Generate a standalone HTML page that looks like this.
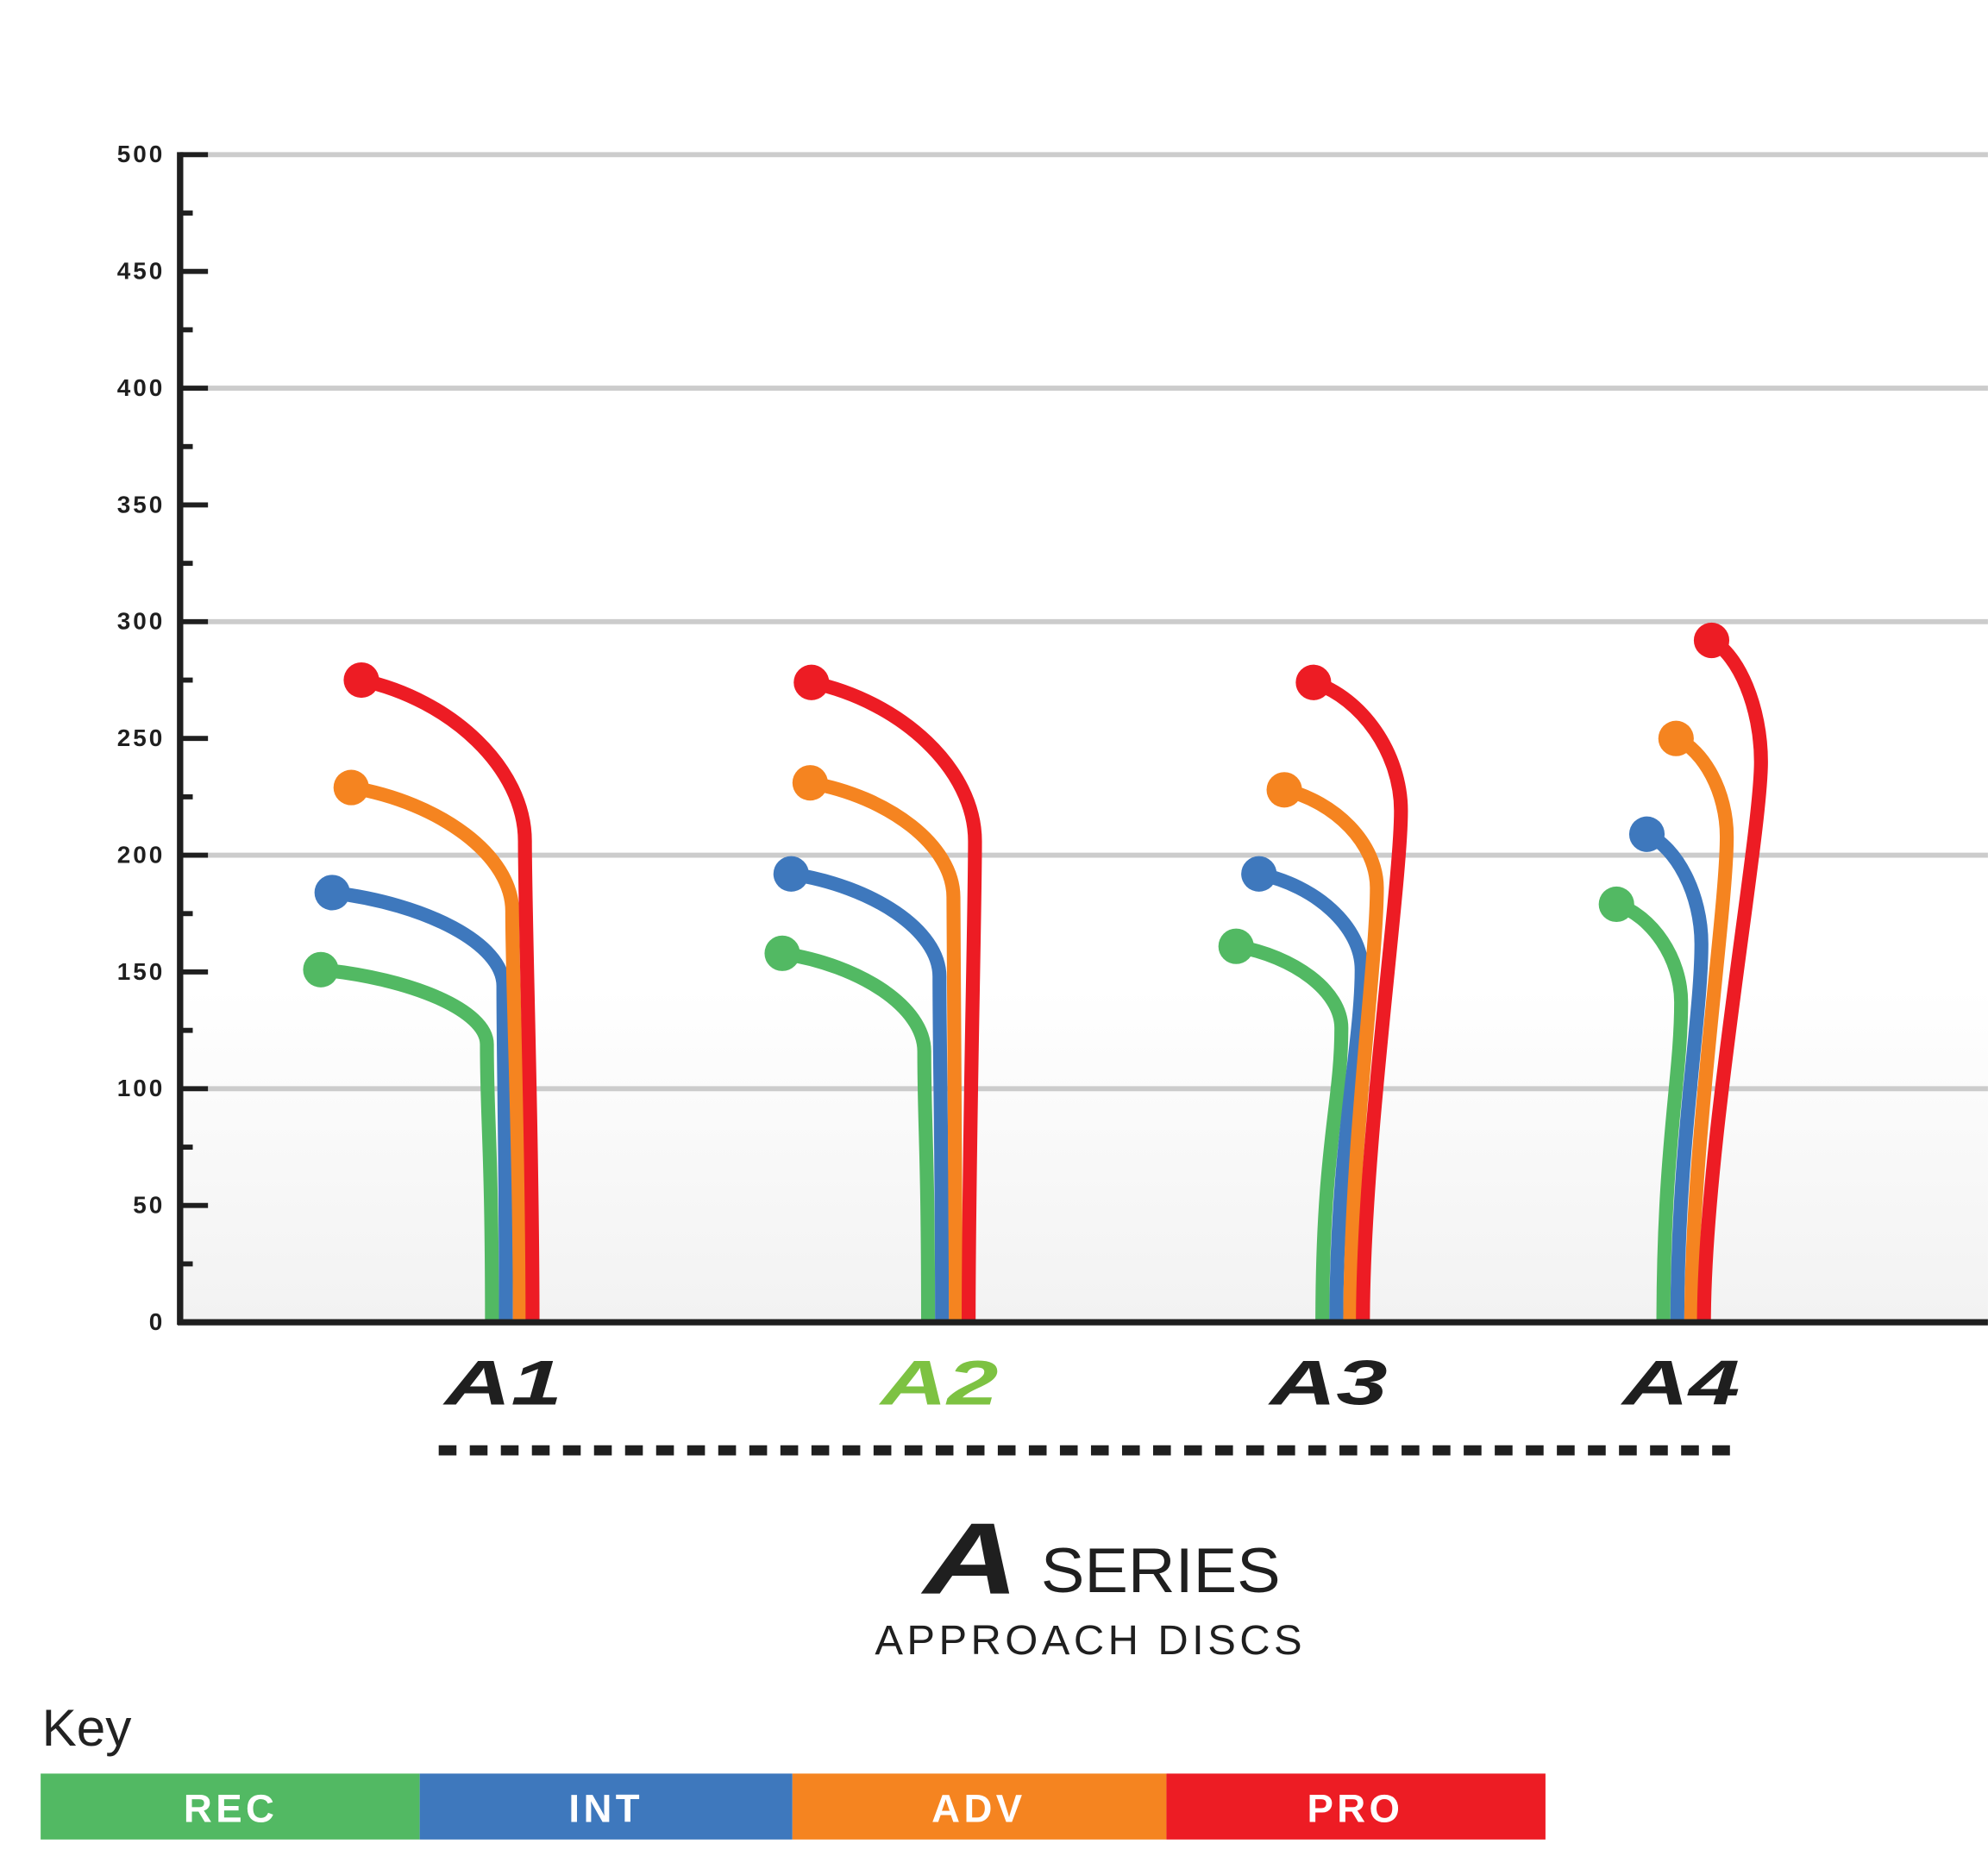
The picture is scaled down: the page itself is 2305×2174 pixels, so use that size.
<!DOCTYPE html>
<html><head><meta charset="utf-8"><style>
html,body{margin:0;padding:0;background:#fff;}
svg{display:block;}
</style></head><body>
<svg id="chart" width="2305" height="2174" viewBox="0 0 1568 1479" xmlns="http://www.w3.org/2000/svg" font-family="Liberation Sans, sans-serif">
<defs>
<linearGradient id="bg" x1="0" y1="0" x2="0" y2="1">
<stop offset="0" stop-color="#ffffff"/><stop offset="1" stop-color="#f2f2f2"/>
</linearGradient>
</defs>
<rect x="142" y="780" width="1426" height="263" fill="url(#bg)"/>
<g id="grid"></g>
<g id="curves"></g>
<g id="axes"></g>

<g font-weight="bold" font-style="italic" font-size="50">
<text x="397" y="1108" text-anchor="middle" fill="#1f1f1f" transform="translate(397 1108) scale(1.45 1) translate(-397 -1108)">A1</text>
<text x="741" y="1108" text-anchor="middle" fill="#7dc242" transform="translate(741 1108) scale(1.45 1) translate(-741 -1108)">A2</text>
<text x="1048" y="1108" text-anchor="middle" fill="#1f1f1f" transform="translate(1048 1108) scale(1.45 1) translate(-1048 -1108)">A3</text>
<text x="1326" y="1108" text-anchor="middle" fill="#1f1f1f" transform="translate(1326 1108) scale(1.45 1) translate(-1326 -1108)">A4</text>
</g>
<line x1="346" y1="1144" x2="1375" y2="1144" stroke="#1f1f1f" stroke-width="8" stroke-dasharray="14 10.5"/>

<g>
<text x="766" y="1257" text-anchor="middle" font-size="80" font-weight="bold" font-style="italic" fill="#1f1f1f" transform="translate(766 1257) scale(1.3 1) translate(-766 -1257)">A</text>
<text x="821" y="1256" font-size="50" fill="#1f1f1f" textLength="189" lengthAdjust="spacingAndGlyphs">SERIES</text>
<text x="860" y="1305" text-anchor="middle" font-size="33" fill="#1f1f1f" letter-spacing="3" textLength="340" lengthAdjust="spacingAndGlyphs">APPROACH DISCS</text>
</g>

<g>
<text x="33" y="1377" font-size="41" fill="#222">Key</text>
<rect x="32" y="1399" width="299" height="52" fill="#52b963"/>
<rect x="331" y="1399" width="294" height="52" fill="#3e78bd"/>
<rect x="625" y="1399" width="295" height="52" fill="#f58420"/>
<rect x="920" y="1399" width="299" height="52" fill="#ed1c24"/>
<g fill="#fff" font-weight="bold" font-size="31" letter-spacing="3" text-anchor="middle">
<text x="182" y="1437">REC</text>
<text x="478" y="1437">INT</text>
<text x="772" y="1437">ADV</text>
<text x="1069" y="1437">PRO</text>
</g>
</g>
</svg>
<script>
// chart data
const discs = ["A1", "A2", "A3", "A4"];
const recValues = [151, 158, 161, 179];
const intValues = [184, 192, 192, 209];
const advValues = [229, 231, 228, 250];
const proValues = [275, 274, 274, 292];
// height (distance units) where each flight path turns downward
const recTurn = [119, 116, 126, 137];
const intTurn = [144, 148, 151, 162];
const advTurn = [176, 182, 186, 208];
const proTurn = [206, 206, 219, 240];
const tickLabels = ["0", "50", "100", "150", "200", "250", "300", "350", "400", "450", "500"];
const tickValues = [0, 50, 100, 150, 200, 250, 300, 350, 400, 450, 500];

const NS = "http://www.w3.org/2000/svg";
const X0 = 142, Y0 = 1043, YTOP = 122, XR = 1568;
function yScale(v) { return Y0 - (v / 500) * (Y0 - YTOP); }
const catCenter = [404, 748, 1059, 1328];
function xScale(i) { return catCenter[i]; }

// visual layout offsets (style, not data)
const levelStemDx = [-16, -5, 6, 16];
const dotOffsets = [
  [-135, -115, -68, -37],
  [-137, -119, -61, -24],
  [-133, -115, -52, -12],
  [-135, -124, -39, 6]
];
const bendOffsets = [
  [-4, -3, 15, 14],
  [-2, -2, 20, 19],
  [-6, -2, 21, 28],
  [-6, 5, 30, 45]
];
const colors = ["#52b963", "#3e78bd", "#f58420", "#ed1c24"];
const levelNames = ["rec", "int", "adv", "pro"];
const valueSets = [recValues, intValues, advValues, proValues];
const turnSets = [recTurn, intTurn, advTurn, proTurn];

const grid = document.getElementById("grid");
const axes = document.getElementById("axes");
const curves = document.getElementById("curves");

tickValues.forEach((v, k) => {
  if (v > 0 && v % 100 === 0) {
    const g = document.createElementNS(NS, "line");
    g.setAttribute("x1", 164); g.setAttribute("x2", XR);
    g.setAttribute("y1", yScale(v)); g.setAttribute("y2", yScale(v));
    g.setAttribute("stroke", "#cccccc"); g.setAttribute("stroke-width", 4);
    
    
    grid.appendChild(g);
  }
  const t = document.createElementNS(NS, "line");
  t.setAttribute("x1", X0); t.setAttribute("x2", 164);
  t.setAttribute("y1", yScale(v)); t.setAttribute("y2", yScale(v));
  t.setAttribute("stroke", "#1f1f1f"); t.setAttribute("stroke-width", 4);
  
  
  axes.appendChild(t);
  const lb = document.createElementNS(NS, "text");
  lb.setAttribute("x", 130); lb.setAttribute("y", yScale(v) + 6);
  lb.setAttribute("text-anchor", "end"); lb.setAttribute("font-size", 19);
  lb.setAttribute("font-weight", "bold"); lb.setAttribute("letter-spacing", "2");
  lb.setAttribute("fill", "#1f1f1f");
  lb.textContent = tickLabels[k];
  
  
  axes.appendChild(lb);
  if (v < 500) {
    const m = document.createElementNS(NS, "line");
    const mv = v + 25;
    m.setAttribute("x1", X0); m.setAttribute("x2", 152);
    m.setAttribute("y1", yScale(mv)); m.setAttribute("y2", yScale(mv));
    m.setAttribute("stroke", "#1f1f1f"); m.setAttribute("stroke-width", 4);
    
    
    axes.appendChild(m);
  }
});
const ya = document.createElementNS(NS, "line");
ya.setAttribute("x1", X0); ya.setAttribute("x2", X0);
ya.setAttribute("y1", YTOP - 2); ya.setAttribute("y2", Y0 + 2);
ya.setAttribute("stroke", "#1f1f1f"); ya.setAttribute("stroke-width", 5);


axes.appendChild(ya);
const xa = document.createElementNS(NS, "line");
xa.setAttribute("x1", X0 - 2); xa.setAttribute("x2", XR);
xa.setAttribute("y1", Y0); xa.setAttribute("y2", Y0);
xa.setAttribute("stroke", "#1f1f1f"); xa.setAttribute("stroke-width", 5);


axes.appendChild(xa);

discs.forEach((d, i) => {
  for (let l = 0; l < 4; l++) {
    const bx = xScale(i) + levelStemDx[l];
    const by = Y0 + 1;
    const tx = bx + bendOffsets[l][i];
    const ty = yScale(turnSets[l][i]);
    const dx = bx + dotOffsets[l][i];
    const dy = yScale(valueSets[l][i]);
    const path = "M" + dx + "," + dy +
      " C" + (dx + (tx - dx) * 0.55) + "," + (dy + (ty - dy) * 0.12) + " " + tx + "," + (ty - (ty - dy) * 0.45) + " " + tx + "," + ty +
      " C" + tx + "," + (ty + 60) + " " + bx + "," + (by - 140) + " " + bx + "," + by;
    const p = document.createElementNS(NS, "path");
    p.setAttribute("d", path);
    p.setAttribute("fill", "none");
    p.setAttribute("stroke", colors[l]);
    p.setAttribute("stroke-width", 11);
    
    
    curves.appendChild(p);
    const c = document.createElementNS(NS, "circle");
    c.setAttribute("cx", dx); c.setAttribute("cy", dy); c.setAttribute("r", 14);
    c.setAttribute("fill", colors[l]);
    
    
    curves.appendChild(c);
  }
});
</script>
</body></html>
